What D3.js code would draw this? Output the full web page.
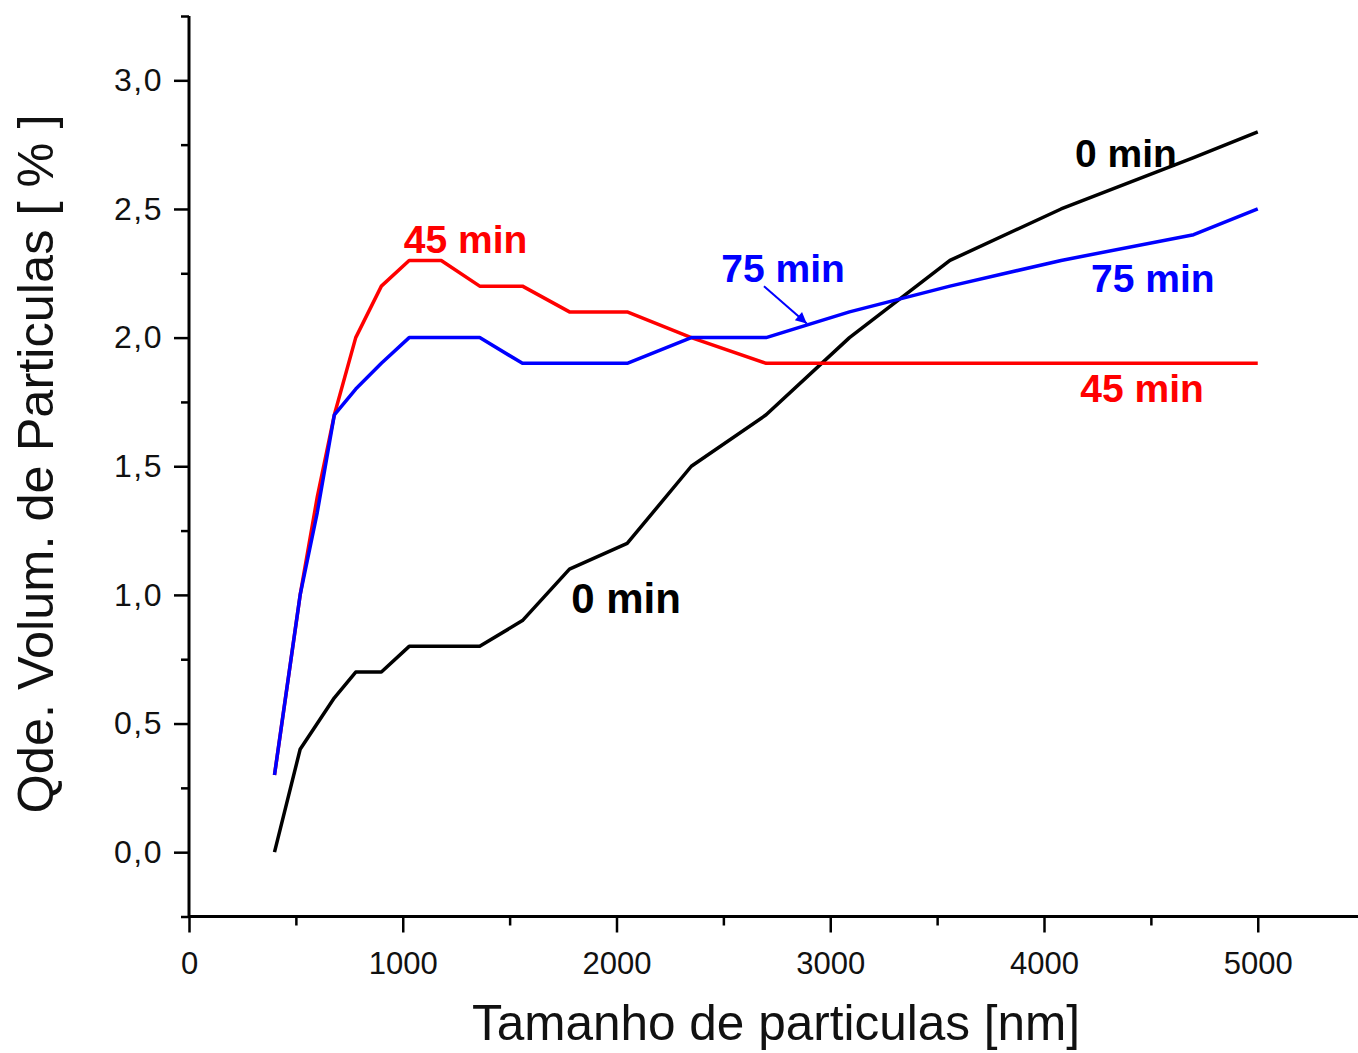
<!DOCTYPE html>
<html>
<head>
<meta charset="utf-8">
<script src="https://cdn.jsdelivr.net/npm/d3@7"></script>
<style>
  html, body { margin: 0; padding: 0; background: #fff; }
  svg { display: block; font-family: "Liberation Sans", Arial, sans-serif; }
</style>
</head>
<body>
<svg id="chart" width="1358" height="1053"></svg>
<script>
// ---- data ----
const sizes0  = [400, 520, 600, 680, 780, 900, 1030, 1180, 1360, 1560, 1780, 2050, 2350, 2700, 3090, 3560, 4080, 4700, 5000];
const min0    = [0.0, 0.4, 0.5, 0.6, 0.7, 0.7, 0.8, 0.8, 0.8, 0.9, 1.1, 1.2, 1.5, 1.7, 2.0, 2.3, 2.5, 2.7, 2.8];

const sizes45 = [400, 520, 600, 680, 780, 900, 1030, 1180, 1360, 1560, 1780, 2050, 2350, 2700, 3090, 3560, 4080, 4700, 5000];
const min45   = [0.3, 1.0, 1.38, 1.7, 2.0, 2.2, 2.3, 2.3, 2.2, 2.2, 2.1, 2.1, 2.0, 1.9, 1.9, 1.9, 1.9, 1.9, 1.9];

const sizes75 = [400, 520, 600, 680, 780, 900, 1030, 1180, 1360, 1560, 1780, 2050, 2350, 2700, 3090, 3560, 4080, 4700, 5000];
const min75   = [0.3, 1.0, 1.32, 1.7, 1.8, 1.9, 2.0, 2.0, 2.0, 1.9, 1.9, 1.9, 2.0, 2.0, 2.1, 2.2, 2.3, 2.4, 2.5];

const xMajorTicks = [0, 1000, 2000, 3000, 4000, 5000];
const xMinorTicks = [500, 1500, 2500, 3500, 4500];
const yMajorTicks = [0, 0.5, 1.0, 1.5, 2.0, 2.5, 3.0];
const yMinorTicks = [-0.25, 0.25, 0.75, 1.25, 1.75, 2.25, 2.75, 3.25];

const xTitle = "Tamanho de particulas [nm]";
const yTitle = "Qde. Volum. de Particulas [ % ]";

// annotation labels
const labels = [
  {text: "45 min", x: 1005, y: 2.328, color: "#ff0000", size: 39},
  {text: "75 min", x: 2490, y: 2.217, color: "#0000ff", size: 39},
  {text: "0 min",  x: 4145, y: 2.664, color: "#000000", size: 39},
  {text: "75 min", x: 4220, y: 2.178, color: "#0000ff", size: 39},
  {text: "45 min", x: 4170, y: 1.751, color: "#ff0000", size: 39},
  {text: "0 min",  x: 1788, y: 0.928, color: "#000000", size: 42}
];
const arrow75 = {x1: 2690, y1: 2.2, x2: 2890, y2: 2.055};

// ---- drawing ----
const svg = d3.select("#chart");
const x = d3.scaleLinear().domain([0, 5500]).range([189, 189 + 5500 * 0.21375]);
const y = d3.scaleLinear().domain([-0.25, 3.25]).range([916.5, 16]);

const axisColor = "#000";

// axes lines
svg.append("line").attr("x1", x(0)).attr("x2", 1358).attr("y1", y(-0.25)).attr("y2", y(-0.25))
  .attr("stroke", axisColor).attr("stroke-width", 3);
svg.append("line").attr("x1", x(0)).attr("x2", x(0)).attr("y1", y(-0.25) + 1.5).attr("y2", y(3.25))
  .attr("stroke", axisColor).attr("stroke-width", 3);

// x axis ticks via d3 axis
const xAxisMajor = d3.axisBottom(x).tickValues(xMajorTicks).tickSize(16).tickPadding(19).tickFormat(d3.format("d"));
const gx = svg.append("g").attr("transform", `translate(0,${y(-0.25)})`).call(xAxisMajor);
gx.select(".domain").remove();
gx.selectAll(".tick line").attr("stroke", axisColor).attr("stroke-width", 2.5);
gx.selectAll(".tick text").attr("font-size", 31).attr("fill", "#111").attr("font-family", "Liberation Sans, Arial, sans-serif");

const xAxisMinor = d3.axisBottom(x).tickValues(xMinorTicks).tickSize(9).tickFormat("");
const gxm = svg.append("g").attr("transform", `translate(0,${y(-0.25)})`).call(xAxisMinor);
gxm.select(".domain").remove();
gxm.selectAll(".tick line").attr("stroke", axisColor).attr("stroke-width", 2.5);

// y axis ticks
const fmtComma = d => d3.format(".1f")(d).replace(".", ",");
const yAxisMajor = d3.axisLeft(y).tickValues(yMajorTicks).tickSize(15).tickPadding(11).tickFormat(fmtComma);
const gy = svg.append("g").attr("transform", `translate(${x(0)},0)`).call(yAxisMajor);
gy.select(".domain").remove();
gy.selectAll(".tick line").attr("stroke", axisColor).attr("stroke-width", 2.5);
gy.selectAll(".tick text").attr("font-size", 32).attr("letter-spacing", 1.5).attr("fill", "#111")
  .attr("font-family", "Liberation Sans, Arial, sans-serif");

const yAxisMinor = d3.axisLeft(y).tickValues(yMinorTicks).tickSize(8).tickFormat("");
const gym = svg.append("g").attr("transform", `translate(${x(0)},0)`).call(yAxisMinor);
gym.select(".domain").remove();
gym.selectAll(".tick line").attr("stroke", axisColor).attr("stroke-width", 2.5);

// axis titles
svg.append("text").attr("x", 776).attr("y", 1040).attr("text-anchor", "middle")
  .attr("font-size", 49.5).attr("fill", "#111").text(xTitle);
svg.append("text").attr("transform", `translate(53,464) rotate(-90)`).attr("text-anchor", "middle")
  .attr("font-size", 50.5).attr("fill", "#111").text(yTitle);

// series
const line = d3.line().x(d => x(d[0])).y(d => y(d[1]));
const series = [
  {xs: sizes0, ys: min0, color: "#000000"},
  {xs: sizes45, ys: min45, color: "#ff0000"},
  {xs: sizes75, ys: min75, color: "#0000ff"}
];
series.forEach(s => {
  svg.append("path")
    .datum(s.xs.map((v, i) => [v, s.ys[i]]))
    .attr("d", line)
    .attr("fill", "none")
    .attr("stroke", s.color)
    .attr("stroke-width", 3.5)
    .attr("stroke-linejoin", "round");
});

// arrow
const defs = svg.append("defs");
defs.append("marker").attr("id", "arrowHead").attr("viewBox", "0 0 10 10")
  .attr("refX", 10).attr("refY", 5)
  .attr("markerUnits", "userSpaceOnUse").attr("orient", "auto")
  .attr("markerWidth", 17).attr("markerHeight", 11)
  .append("path").attr("d", "M0,0 L10,5 L0,10 Z").attr("fill", "#0000ff");
svg.append("line")
  .attr("x1", x(arrow75.x1)).attr("y1", y(arrow75.y1))
  .attr("x2", x(arrow75.x2)).attr("y2", y(arrow75.y2))
  .attr("stroke", "#0000ff").attr("stroke-width", 2)
  .attr("marker-end", "url(#arrowHead)");

// labels
labels.forEach(l => {
  svg.append("text").attr("x", x(l.x)).attr("y", y(l.y))
    .attr("font-size", l.size).attr("font-weight", "bold")
    .attr("fill", l.color).text(l.text);
});
</script>
</body>
</html>
